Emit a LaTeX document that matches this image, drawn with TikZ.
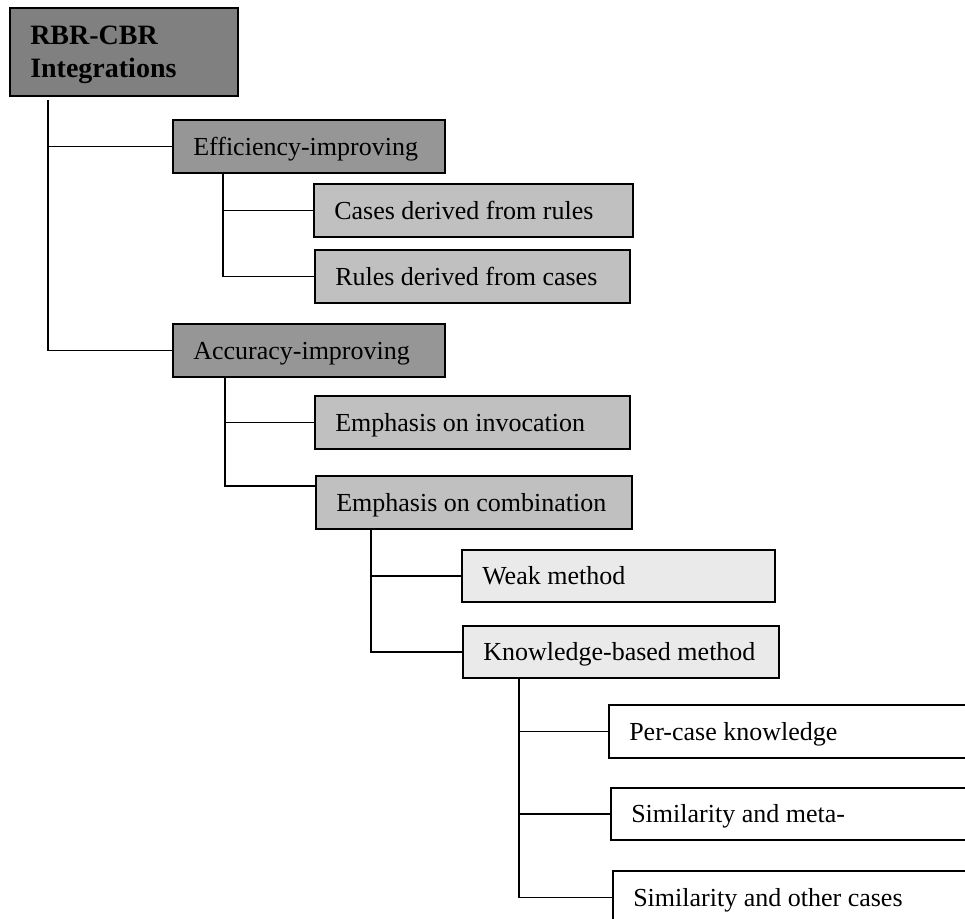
\documentclass[tikz,border=0pt]{standalone}
\usepackage{fontspec}
\setmainfont{Liberation Serif}
\usetikzlibrary{calc}
\definecolor{cRoot}{HTML}{808080}
\definecolor{cMid}{HTML}{969696}
\definecolor{cLight}{HTML}{C0C0C0}
\definecolor{cPale}{HTML}{EAEAEA}
\newcommand\regf{\fontsize{19.5}{23}\selectfont}
\newcommand\boldf{\fontsize{21}{24.75}\selectfont\bfseries}
\tikzset{
  box/.style={draw, line width=1.4pt, anchor=north west, inner sep=0pt},
  lbl/.style={anchor=west, inner sep=0pt, text height=12.9pt, text depth=0pt, font=\regf},
  conn/.style={line width=1pt}
}
\newcommand\bx[7]{%
  \node[box, fill=#6, minimum width=#4, minimum height=#5] (#1) at (#2,#3) {};
  \node[lbl] (#1-t) at ($(#1.west)+(21,0)$) {#7};
}
\begin{document}
\begin{tikzpicture}[x=0.75pt, y=-0.75pt]
\useasboundingbox (0,0) rectangle (965,919);
\clip (0,0) rectangle (965,919);
% root
\node[box, fill=cRoot, minimum width=171pt, minimum height=66pt] (root) at (9,7) {};
\node[anchor=base west, inner sep=0pt, font=\boldf] (root-t) at (30,45)
  {\renewcommand\arraystretch{1}\begin{tabular}[t]{@{}l@{}}RBR-CBR\\Integrations\end{tabular}};
% level 1
\bx{eff}{172}{119}{204pt}{39.75pt}{cMid}{Efficiency-improving}
\bx{acc}{172}{323}{204pt}{39.75pt}{cMid}{Accuracy-improving}
% level 2
\bx{cases}{313}{183}{239.25pt}{39.75pt}{cLight}{Cases derived from rules}
\bx{rules}{314}{249}{236.25pt}{39.75pt}{cLight}{Rules derived from cases}
\bx{inv}{314}{395}{236.25pt}{39.75pt}{cLight}{Emphasis on invocation}
\bx{comb}{315}{475}{237pt}{39.75pt}{cLight}{Emphasis on combination}
% level 3
\bx{weak}{461}{549}{234.75pt}{39pt}{cPale}{Weak method}
\bx{know}{462}{625}{237pt}{39pt}{cPale}{Knowledge-based method}
% level 4
\bx{per}{608}{704}{294pt}{39.75pt}{white}{Per-case knowledge}
\bx{meta}{610}{787}{292.5pt}{39pt}{white}{Similarity and meta-}
\bx{other}{612}{870}{291pt}{39.75pt}{white}{Similarity and other cases}
% connectors
\draw[conn] ($(root.south west)+(39,3)$) |- (eff.west);
\draw[conn] ($(root.south west)+(39,3)$) |- (acc.west);
\draw[conn] ($(eff.south west)+(51,0)$) |- (cases.west);
\draw[conn] ($(eff.south west)+(51,0)$) |- (rules.west);
\draw[conn] ($(acc.south west)+(53,0)$) |- (inv.west);
\draw[conn] ($(acc.south west)+(53,0)$) |- ($(comb.north west)+(0,11)$);
\draw[conn] ($(comb.south west)+(56,0)$) |- (weak.west);
\draw[conn] ($(comb.south west)+(56,0)$) |- (know.west);
\draw[conn] ($(know.south west)+(57,0)$) |- (per.west);
\draw[conn] ($(know.south west)+(57,0)$) |- (meta.west);
\draw[conn] ($(know.south west)+(57,0)$) |- (other.west);
\end{tikzpicture}
\end{document}
